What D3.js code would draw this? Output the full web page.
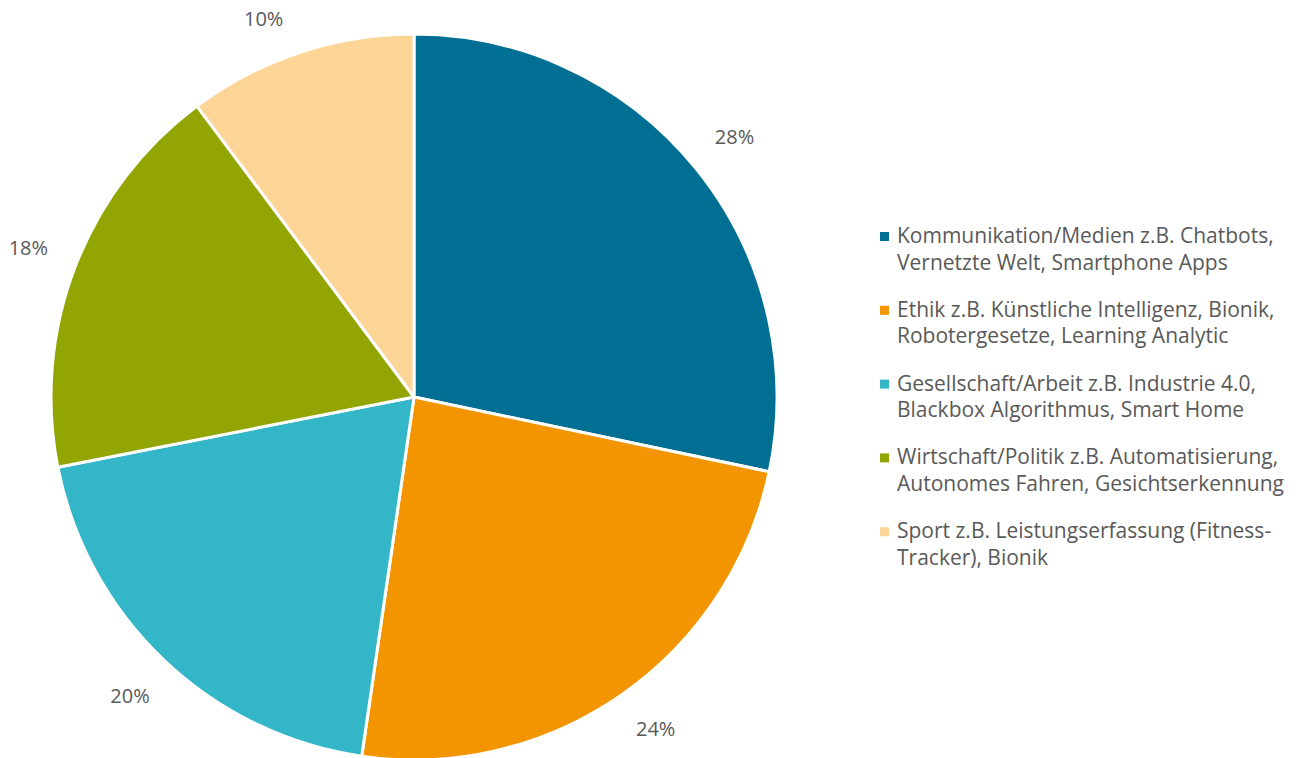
<!DOCTYPE html>
<html>
<head>
<meta charset="utf-8">
<script src="https://cdn.jsdelivr.net/npm/d3@7"></script>
<style>
  body { margin: 0; background: #fff; }
  text { font-family: "Open Sans", Lato, sans-serif; fill: #595959; }
</style>
</head>
<body>
<div id="chart"></div>
<script>
var categories = [
  ["Kommunikation/Medien z.B. Chatbots,", "Vernetzte Welt, Smartphone Apps"],
  ["Ethik z.B. Künstliche Intelligenz, Bionik,", "Robotergesetze, Learning Analytic"],
  ["Gesellschaft/Arbeit z.B. Industrie 4.0,", "Blackbox Algorithmus, Smart Home"],
  ["Wirtschaft/Politik z.B. Automatisierung,", "Autonomes Fahren, Gesichtserkennung"],
  ["Sport z.B. Leistungserfassung (Fitness-", "Tracker), Bionik"]
];
// shares in percent
var values = [28.3, 24.0, 19.6, 17.9, 10.2];
var colors = ["#006f93", "#f29500", "#33b7c8", "#92a503", "#fdd597"];

var width = 1296, height = 758,
    cx = 414, cy = 397, radius = 363;

var svg = d3.select("#chart").append("svg")
    .attr("width", width)
    .attr("height", height);

var total = d3.sum(values);
var pie = d3.pie().sort(null).value(function(d) { return d; });
var arc = d3.arc().innerRadius(0).outerRadius(radius);

var g = svg.append("g").attr("transform", "translate(" + cx + "," + cy + ")");

var slices = pie(values);

g.selectAll("path")
  .data(slices)
  .enter().append("path")
    .attr("d", arc)
    .style("fill", function(d, i) { return colors[i]; })
    .style("stroke", "#fff")
    .style("stroke-width", 3)
    .style("stroke-linejoin", "round");

// labels outside the pie, kept inside the picture
function labelPos(d) {
  var a = (d.startAngle + d.endAngle) / 2;
  var s = Math.sin(a), c = Math.cos(a);
  var dist = radius + 28 + Math.abs(s) * 20 + Math.abs(c) * 10;
  var x = s * dist, y = -c * dist;
  var minY = 19 - cy, maxY = 729 - cy;
  if (y < minY || y > maxY) {
    y = Math.max(minY, Math.min(maxY, y));
    x = (x < 0 ? -1 : 1) * Math.sqrt(dist * dist - y * y);
  }
  return [x, y];
}

g.selectAll(".lbl")
  .data(slices)
  .enter().append("text")
    .attr("class", "lbl")
    .attr("transform", function(d) { return "translate(" + labelPos(d) + ")"; })
    .attr("text-anchor", "middle")
    .attr("dy", "0.35em")
    .style("font-size", "20px")
    .text(function(d) { return Math.round(d.data / total * 100) + "%"; });

// legend
var legend = svg.append("g").attr("transform", "translate(880,0)");
var item = legend.selectAll(".item")
  .data(categories)
  .enter().append("g")
    .attr("class", "item")
    .attr("transform", function(d, i) { return "translate(0," + (243 + i * 73.8) + ")"; });

item.append("rect")
    .attr("x", 0).attr("y", -11)
    .attr("width", 9).attr("height", 9)
    .style("fill", function(d, i) { return colors[i]; });

item.append("text")
    .attr("x", 17)
    .style("font-size", "21px")
    .selectAll("tspan")
    .data(function(d) { return d; })
    .enter().append("tspan")
      .attr("x", 17)
      .attr("y", function(d, j) { return j * 26.5; })
      .text(function(d) { return d; });
</script>
</body>
</html>
